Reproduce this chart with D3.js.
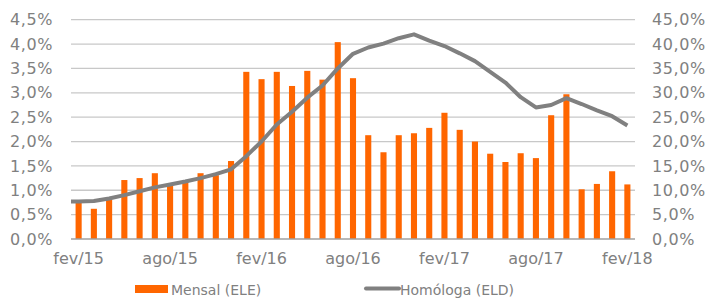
<!DOCTYPE html>
<html><head><meta charset="utf-8">
<script src="https://cdn.jsdelivr.net/npm/d3@7"></script>
<style>
html,body{margin:0;padding:0;background:#fff;}
svg{display:block;font-family:"DejaVu Sans",Verdana,sans-serif;}
</style></head>
<body>
<svg id="chart" width="710" height="298"></svg>
<script>
const categories = ["fev/15","mar/15","abr/15","mai/15","jun/15","jul/15","ago/15","set/15","out/15","nov/15","dez/15","jan/16",
"fev/16","mar/16","abr/16","mai/16","jun/16","jul/16","ago/16","set/16","out/16","nov/16","dez/16","jan/17",
"fev/17","mar/17","abr/17","mai/17","jun/17","jul/17","ago/17","set/17","out/17","nov/17","dez/17","jan/18","fev/18"];
const mensal = [0.77,0.62,0.80,1.21,1.25,1.35,1.14,1.21,1.35,1.31,1.60,3.43,
3.28,3.43,3.14,3.45,3.27,4.04,3.30,2.13,1.78,2.13,2.17,2.28,
2.59,2.24,2.00,1.75,1.58,1.76,1.66,2.54,2.97,1.02,1.13,1.39,1.12];
const homologa = [7.7,7.8,8.3,9.0,9.8,10.6,11.2,11.8,12.5,13.3,14.3,17.0,
20.0,23.5,26.1,29.0,31.5,35.0,38.0,39.3,40.1,41.2,42.0,40.7,
39.6,38.1,36.5,34.3,32.1,29.1,27.0,27.5,28.9,27.7,26.4,25.2,23.3];
const leftTicks = [0,0.5,1,1.5,2,2.5,3,3.5,4,4.5];
const rightTicks = [0,5,10,15,20,25,30,35,40,45];
const xTickLabels = ["fev/15","ago/15","fev/16","ago/16","fev/17","ago/17","fev/18"];
const seriesNames = ["Mensal (ELE)","Homóloga (ELD)"];

const svg = d3.select("#chart");
const L = 71, R = 635, T = 19.7, B = 239;
const x = d3.scaleBand().domain(categories).range([L,R]).paddingInner(0.6).paddingOuter(0.3);
const yL = d3.scaleLinear().domain([0,4.5]).range([B,T]);
const yR = d3.scaleLinear().domain([0,45]).range([B,T]);
const fmt1 = d => d.toFixed(1).replace(".",",") + "%";
const grey = "#808080";

// gridlines
svg.append("g").selectAll("line").data(leftTicks.filter(d=>d>0)).join("line")
  .attr("x1",L).attr("x2",R).attr("y1",d=>yL(d)).attr("y2",d=>yL(d))
  .attr("stroke","#c8c8c8").attr("stroke-width",1.3);

// left axis
const gL = svg.append("g").attr("transform",`translate(${L},0)`)
  .call(d3.axisLeft(yL).tickValues(leftTicks).tickFormat(fmt1).tickSize(0).tickPadding(18));
gL.select(".domain").remove();
gL.selectAll("text").attr("fill",grey).attr("font-size",16).attr("font-family","DejaVu Sans").attr("letter-spacing","0.6px");

// right axis
const gR = svg.append("g").attr("transform",`translate(${R},0)`)
  .call(d3.axisRight(yR).tickValues(rightTicks).tickFormat(fmt1).tickSize(0).tickPadding(17));
gR.select(".domain").remove();
gR.selectAll("text").attr("fill",grey).attr("font-size",16).attr("font-family","DejaVu Sans").attr("letter-spacing","0.6px");

// bars
svg.append("g").selectAll("rect").data(mensal).join("rect")
  .attr("x",(d,i)=>x(categories[i])).attr("width",x.bandwidth())
  .attr("y",d=>yL(d)).attr("height",d=>B-yL(d)).attr("fill","#ff6600");

// baseline
svg.append("line").attr("x1",L).attr("x2",R).attr("y1",B).attr("y2",B)
  .attr("stroke","#a0a0a0").attr("stroke-width",1.3);

// bottom axis
const gX = svg.append("g").attr("transform",`translate(0,${B})`)
  .call(d3.axisBottom(x).tickValues(xTickLabels).tickSize(0).tickPadding(14));
gX.select(".domain").remove();
gX.selectAll("text").attr("fill",grey).attr("font-size",16).attr("font-family","DejaVu Sans");

// line
const cx = i => x(categories[i]) + x.bandwidth()/2;
const pts = homologa.map((v,i)=>[cx(i), yR(v)]);
pts.unshift([x.range()[0], yR(homologa[0])]);
svg.append("path").datum(pts).attr("d",d3.line())
  .attr("fill","none").attr("stroke","#808080").attr("stroke-width",4).attr("stroke-linejoin","round");

// legend
const lg = svg.append("g").attr("font-family","DejaVu Sans").attr("font-size",14).attr("fill",grey);
lg.append("rect").attr("x",135).attr("y",285).attr("width",33).attr("height",8).attr("fill","#ff6600");
lg.append("text").attr("x",171).attr("y",294.5).text(seriesNames[0]);
lg.append("line").attr("x1",366).attr("x2",399).attr("y1",288.5).attr("y2",288.5).attr("stroke","#808080").attr("stroke-width",4).attr("stroke-linecap","round");
lg.append("text").attr("x",400).attr("y",294.5).text(seriesNames[1]);
</script>
</body></html>
